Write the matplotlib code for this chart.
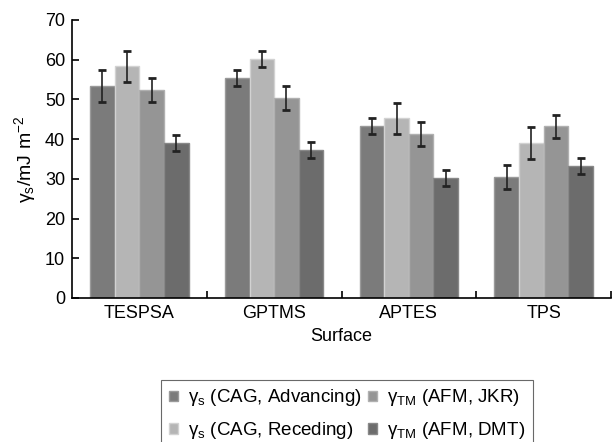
import matplotlib
matplotlib.use("Agg")
import matplotlib.pyplot as plt
import numpy as np

plt.rcParams['font.family'] = ['Liberation Sans', 'DejaVu Sans']
plt.rcParams['mathtext.fontset'] = 'custom'
plt.rcParams['mathtext.rm'] = 'Liberation Sans'
plt.rcParams['mathtext.it'] = 'Liberation Sans'

categories = ["TESPSA", "GPTMS", "APTES", "TPS"]
series_labels = [r"γ$_{\mathrm{s}}$ (CAG, Advancing)",
                 r"γ$_{\mathrm{s}}$ (CAG, Receding)",
                 r"γ$_{\mathrm{TM}}$ (AFM, JKR)",
                 r"γ$_{\mathrm{TM}}$ (AFM, DMT)"]
adv = [53.3, 55.3, 43.2, 30.4]
adv_err = [4, 2, 2, 3]
rec = [58.3, 60.2, 45.2, 39.0]
rec_err = [4, 2, 4, 4]
jkr = [52.3, 50.4, 41.2, 43.2]
jkr_err = [3, 3, 3, 3]
dmt = [39.0, 37.2, 30.3, 33.3]
dmt_err = [2, 2, 2, 2]

values = [adv, rec, jkr, dmt]
errors = [adv_err, rec_err, jkr_err, dmt_err]
colors = ["#7b7b7b", "#b5b5b5", "#959595", "#6c6c6c"]
edges = ["#9a9a9a", "#d2d2d2", "#b0b0b0", "#888888"]

fig = plt.figure(figsize=(6.13, 4.42), dpi=100)
ax = fig.add_axes([72 / 613, 1 - 298 / 442, 539 / 613, 278 / 442])

x = np.arange(len(categories)) + 0.5
n = len(values)
group_w = 0.73
bw = group_w / n
handles = []
for i in range(n):
    pos = x - group_w / 2 + bw * (i + 0.5)
    b = ax.bar(pos, values[i], width=bw, color=colors[i], edgecolor=edges[i],
               linewidth=1.0, label=series_labels[i], zorder=2)
    handles.append(b)
    ax.errorbar(pos, values[i], yerr=errors[i], fmt='none', ecolor='#222222',
                elinewidth=1.2, capsize=3, capthick=2, zorder=3)

ax.set_xlim(0, len(categories))
ax.set_ylim(0, 70)
ax.set_yticks(range(0, 71, 10))
ax.set_xticks(x)
ax.set_xticklabels(categories)
ax.set_xticks(np.arange(1, len(categories) + 1), minor=True)
ax.tick_params(axis='x', which='major', length=0, pad=5, labelsize=13)
ax.tick_params(axis='x', which='minor', length=5, direction='in', width=1.2)
ax.tick_params(axis='y', which='major', length=5, direction='in', width=1.2, labelsize=13, pad=5)
for s in ['top', 'right']:
    ax.spines[s].set_visible(False)
for s in ['left', 'bottom']:
    ax.spines[s].set_linewidth(1.2)
ax.set_xlabel("Surface", fontsize=13, labelpad=4)
ax.set_ylabel(r"γ$_{\mathrm{s}}$/mJ m$^{-2}$", fontsize=14, labelpad=5)

leg = fig.legend(handles=handles, labels=series_labels, loc='upper left',
                 bbox_to_anchor=(161 / 613, 1 - 380 / 442), borderaxespad=0,
                 ncol=2, fontsize=13.5,
                 frameon=True, fancybox=False, edgecolor='#444444',
                 handlelength=0.5, handleheight=0.5, handletextpad=0.55,
                 columnspacing=0.3, borderpad=0.4, labelspacing=0.62)
leg.get_frame().set_linewidth(0.8)

fig.savefig("out.png", dpi=100)
